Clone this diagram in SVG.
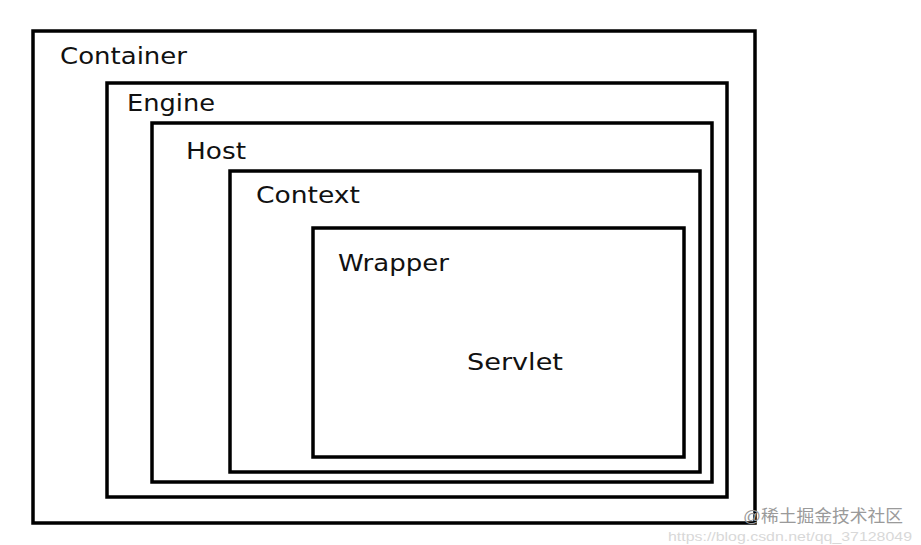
<svg xmlns="http://www.w3.org/2000/svg" width="921" height="545" viewBox="0 0 921 545">
<style>
.box{fill:none;stroke:#000;stroke-width:3.5;stroke-linejoin:miter}
.lbl{font-family:"DejaVu Sans","Liberation Sans",sans-serif;font-size:23px;fill:#111}
.wm{font-family:"Liberation Sans","Noto Sans CJK SC",sans-serif;font-size:17px;fill:#9a9a9a}
.wm2{font-family:"Liberation Sans",sans-serif;font-size:13px;fill:#d8d8d8}
</style>
<rect width="921" height="545" fill="#fff"/>
<g id="container">
<rect class="box" x="33" y="31" width="722" height="492"/>
<text class="lbl" x="60" y="64" textLength="127" lengthAdjust="spacingAndGlyphs">Container</text>
</g>
<g id="engine">
<rect class="box" x="107" y="83" width="620" height="414"/>
<text class="lbl" x="127" y="111" textLength="88" lengthAdjust="spacingAndGlyphs">Engine</text>
</g>
<g id="host">
<rect class="box" x="152" y="123" width="560" height="359"/>
<text class="lbl" x="186" y="159" textLength="60" lengthAdjust="spacingAndGlyphs">Host</text>
</g>
<g id="context">
<rect class="box" x="230" y="171" width="470" height="301"/>
<text class="lbl" x="256" y="203" textLength="104" lengthAdjust="spacingAndGlyphs">Context</text>
</g>
<g id="wrapper">
<rect class="box" x="313" y="228" width="371" height="229"/>
<text class="lbl" x="338" y="271" textLength="111" lengthAdjust="spacingAndGlyphs">Wrapper</text>
</g>
<g id="servlet">
<text class="lbl" x="467" y="370" textLength="96" lengthAdjust="spacingAndGlyphs">Servlet</text>
</g>
<g id="connectors"></g>
<g id="watermark">
<text class="wm" x="743" y="522" textLength="160" lengthAdjust="spacingAndGlyphs">@稀土掘金技术社区</text>
<text class="wm2" x="668" y="541" textLength="244" lengthAdjust="spacingAndGlyphs">https://blog.csdn.net/qq_37128049</text>
</g>
</svg>
